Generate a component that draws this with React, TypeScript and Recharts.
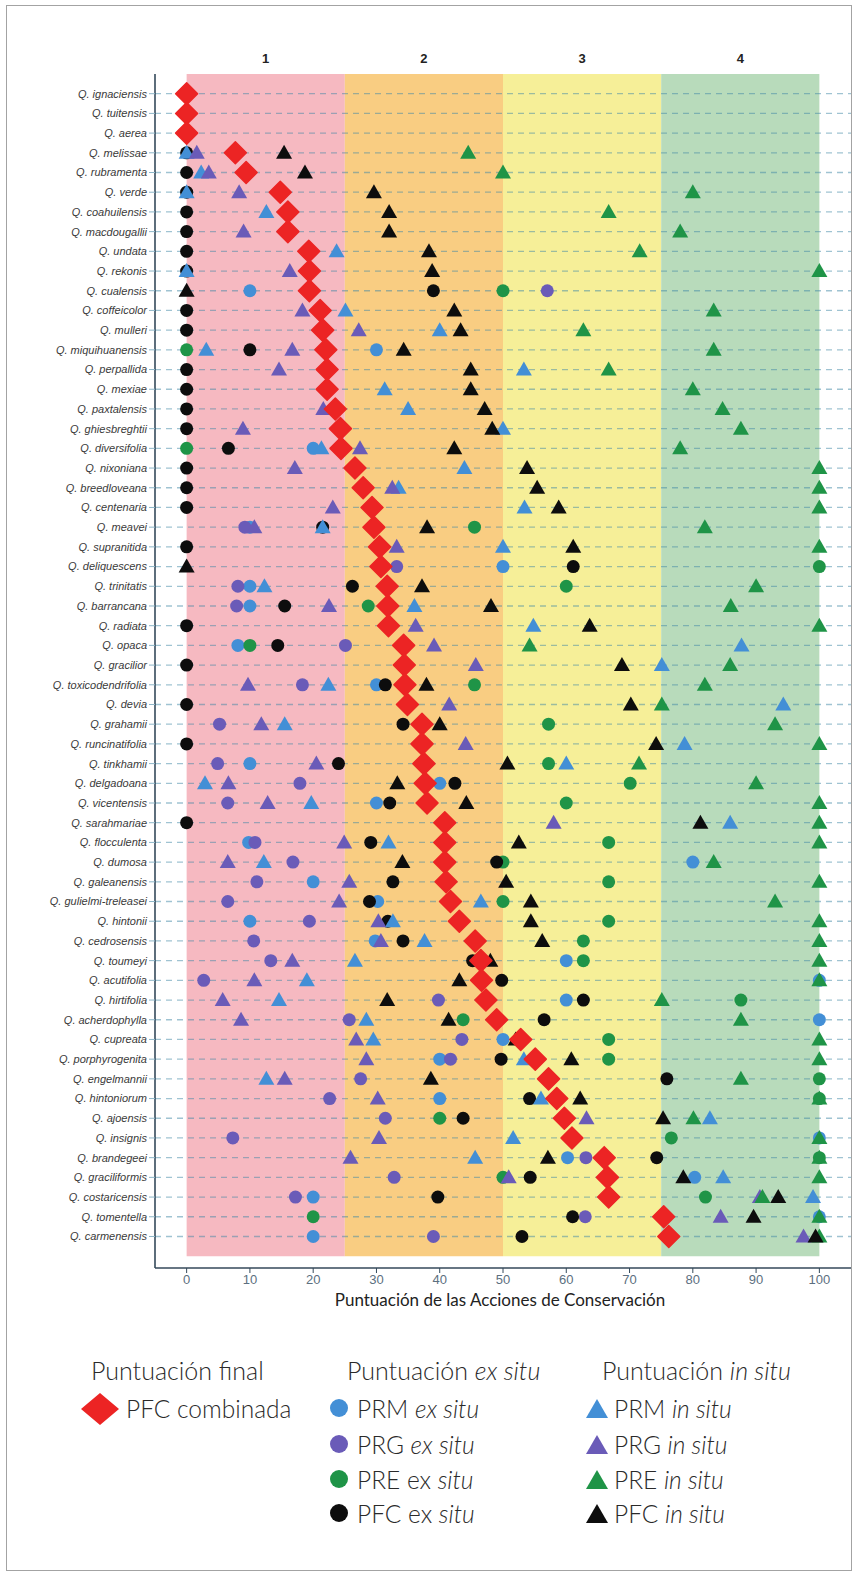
import React from 'react';
import { ScatterChart, Scatter, XAxis, YAxis, ReferenceArea, ReferenceLine } from 'recharts';

const species = [
  'Q. ignaciensis', 'Q. tuitensis', 'Q. aerea', 'Q. melissae', 'Q. rubramenta',
  'Q. verde', 'Q. coahuilensis', 'Q. macdougallii', 'Q. undata', 'Q. rekonis',
  'Q. cualensis', 'Q. coffeicolor', 'Q. mulleri', 'Q. miquihuanensis', 'Q. perpallida',
  'Q. mexiae', 'Q. paxtalensis', 'Q. ghiesbreghtii', 'Q. diversifolia', 'Q. nixoniana',
  'Q. breedloveana', 'Q. centenaria', 'Q. meavei', 'Q. supranitida', 'Q. deliquescens',
  'Q. trinitatis', 'Q. barrancana', 'Q. radiata', 'Q. opaca', 'Q. gracilior',
  'Q. toxicodendrifolia', 'Q. devia', 'Q. grahamii', 'Q. runcinatifolia', 'Q. tinkhamii',
  'Q. delgadoana', 'Q. vicentensis', 'Q. sarahmariae', 'Q. flocculenta', 'Q. dumosa',
  'Q. galeanensis', 'Q. gulielmi-treleasei', 'Q. hintonii', 'Q. cedrosensis', 'Q. toumeyi',
  'Q. acutifolia', 'Q. hirtifolia', 'Q. acherdophylla', 'Q. cupreata', 'Q. porphyrogenita',
  'Q. engelmannii', 'Q. hintoniorum', 'Q. ajoensis', 'Q. insignis', 'Q. brandegeei',
  'Q. graciliformis', 'Q. costaricensis', 'Q. tomentella', 'Q. carmenensis',
];

const _ = null;

// PFC combinada
const combinada = [
  0, 0, 0, 7.7, 9.4, 14.8, 16.0, 16.0, 19.3, 19.4,
  19.4, 21.1, 21.5, 22.0, 22.2, 22.2, 23.5, 24.3, 24.4, 26.6,
  27.9, 29.3, 29.6, 30.5, 30.7, 31.7, 31.8, 31.9, 34.3, 34.4,
  34.5, 34.9, 37.2, 37.2, 37.5, 37.7, 38.0, 40.8, 40.8, 40.8,
  41.0, 41.7, 43.1, 45.6, 46.5, 46.6, 47.3, 49.0, 52.8, 55.1,
  57.2, 58.5, 59.7, 60.9, 66.0, 66.5, 66.7, 75.4, 76.2,
];

// ex situ
const prmEx = [
  _, _, _, _, _, _, _, _, _, _,
  10, _, _, 30, _, _, _, _, 20, _,
  _, _, 10, _, 50, 10, 10, _, 8.1, _,
  30, _, _, _, 10, 40, 30, _, 9.8, 80,
  20, 30.2, 10, 29.8, 60, 100, 60, 100, 50, 40,
  _, 40, _, 100, 60.2, 80.3, 20, 100, 20,
];
const prgEx = [
  _, _, _, _, _, _, _, _, _, _,
  57, _, _, _, _, _, _, _, _, _,
  _, _, 9.2, _, 33.2, 8.1, 7.9, _, 25.1, _,
  18.3, _, 5.2, _, 4.9, 17.9, 6.5, _, 10.8, 16.8,
  11.1, 6.5, 19.4, 10.6, 13.3, 2.7, 39.8, 25.7, 43.5, 41.7,
  27.5, 22.6, 31.4, 7.3, 63.1, 32.8, 17.2, 63, 39,
];
const preEx = [
  _, _, _, _, _, _, _, _, _, _,
  50, _, _, 0, _, _, _, _, 0, _,
  _, _, 45.5, _, 100, 60, 28.7, _, 10, _,
  45.5, _, 57.2, _, 57.2, 70.1, 60, _, 66.7, 50,
  66.7, 50, 66.7, 62.7, 62.7, _, 87.6, 43.7, 66.7, 66.7,
  100, 100, 40, 76.6, 100, 50, 82, 20, _,
];
const pfcEx = [
  _, _, _, 0, 0, 0, 0, 0, 0, 0,
  39, 0, 0, 10, 0, 0, 0, 0, 6.6, 0,
  0, 0, 21.5, 0, 61.1, 26.2, 15.5, 0, 14.4, 0,
  31.4, 0, 34.2, 0, 24, 42.4, 32.1, 0, 29.1, 49,
  32.6, 28.9, 31.8, 34.2, 45.2, 49.8, 62.7, 56.5, _, 49.7,
  75.9, 54.2, 43.7, _, 74.3, 54.3, 39.7, 61, 53,
];

// in situ
const prmIn = [
  _, _, _, 0, 2.3, 0, 12.6, _, 23.7, 0,
  _, 25.1, 40, 3.1, 53.3, 31.3, 35, 50, 21.3, 43.9,
  33.5, 53.4, 21.5, 50, _, 12.3, 36, 54.8, 87.7, 75.1,
  22.4, 94.3, 15.5, 78.7, 60, 2.9, 19.7, 85.9, 31.9, 12.2,
  _, 46.5, 32.6, 37.6, 26.6, 19, 14.6, 28.4, 29.5, 53.3,
  12.6, 56, 82.7, 51.6, 45.6, 84.8, 99, _, _,
];
const prgIn = [
  _, _, _, 1.6, 3.5, 8.3, _, 9.0, _, 16.3,
  _, 18.3, 27.2, 16.7, 14.6, _, 21.6, 8.9, 27.4, 17.1,
  32.5, 23.1, 10.7, 33.2, _, _, 22.5, 36.2, 39.1, 45.7,
  9.7, 41.5, 11.8, 44.1, 20.5, 6.6, 12.8, 58, 24.9, 6.5,
  25.7, 24.1, 30.3, 30.7, 16.7, 10.7, 5.7, 8.6, 26.8, 28.4,
  15.5, 30.2, 63.2, 30.4, 25.9, 50.9, 90.6, 84.4, 97.5,
];
const preIn = [
  _, _, _, 44.5, 50, 80, 66.7, 78, 71.6, 100,
  _, 83.3, 62.7, 83.3, 66.7, 80, 84.7, 87.6, 78, 100,
  100, 100, 81.9, 100, _, 90, 86, 100, 54.2, 85.9,
  81.9, 75.1, 93, 100, 71.5, 90, 100, 100, 100, 83.3,
  100, 93, 100, 100, 100, 100, 75.1, 87.6, 100, 100,
  87.6, 100, 80.1, 100, 100, 100, 91, 100, 100,
];
const pfcIn = [
  _, _, _, 15.4, 18.7, 29.6, 32, 32, 38.3, 38.8,
  0, 42.3, 43.3, 34.3, 44.9, 44.9, 47.1, 48.3, 42.3, 53.8,
  55.4, 58.8, 38, 61.1, 0, 37.2, 48.1, 63.7, _, 68.8,
  37.9, 70.2, 40, 74.2, 50.7, 33.3, 44.2, 81.2, 52.5, 34.1,
  50.5, 54.4, 54.4, 56.2, 48, 43.1, 31.7, 41.4, 52, 60.8,
  38.6, 62.2, 75.3, _, 57.1, 78.5, 93.5, 89.6, 99.4,
];

const xTicks = [0, 10, 20, 30, 40, 50, 60, 70, 80, 90, 100];
const bands = [
  { from: 0, to: 25, label: '1', color: '#f6b9c1' },
  { from: 25, to: 50, label: '2', color: '#f9cd82' },
  { from: 50, to: 75, label: '3', color: '#f6ef98' },
  { from: 75, to: 100, label: '4', color: '#b8dbbb' },
];

const BLUE = '#438fd6';
const PURPLE = '#6a5bb8';
const GREEN = '#1f9447';
const BLACK = '#0d0d0d';
const RED = '#ec2424';

const rows = species.map((_, i) => i + 1);
const toPoints = (vals: (number | null)[]) =>
  vals.flatMap((v, i) => (v === null ? [] : [{ x: v, y: i + 1 }]));

const circleShape = (color: string) => (p: any) => (
  <circle cx={p.cx} cy={p.cy} r={6.5} fill={color} />
);
const triangleShape = (color: string) => (p: any) => (
  <polygon
    points={`${p.cx - 8},${p.cy + 6} ${p.cx + 8},${p.cy + 6} ${p.cx},${p.cy - 8}`}
    fill={color}
  />
);
const diamondShape = (p: any) => (
  <polygon
    points={`${p.cx},${p.cy - 11} ${p.cx + 11},${p.cy} ${p.cx},${p.cy + 11} ${p.cx - 11},${p.cy}`}
    fill={RED}
    stroke={RED}
    strokeLinejoin="round"
    strokeWidth={1.5}
  />
);

const series = [
  { name: 'PRM ex situ', data: prmEx, shape: circleShape(BLUE) },
  { name: 'PRG ex situ', data: prgEx, shape: circleShape(PURPLE) },
  { name: 'PRE ex situ', data: preEx, shape: circleShape(GREEN) },
  { name: 'PFC ex situ', data: pfcEx, shape: circleShape(BLACK) },
  { name: 'PRM in situ', data: prmIn, shape: triangleShape(BLUE) },
  { name: 'PRG in situ', data: prgIn, shape: triangleShape(PURPLE) },
  { name: 'PRE in situ', data: preIn, shape: triangleShape(GREEN) },
  { name: 'PFC in situ', data: pfcIn, shape: triangleShape(BLACK) },
  { name: 'PFC combinada', data: combinada, shape: diamondShape },
];

const legendFont = 'Lato, "Open Sans", sans-serif';

const LegendIcon = ({ kind, color }: { kind: string; color: string }) => {
  if (kind === 'diamond')
    return (
      <svg width={40} height={34} style={{ display: 'block' }}>
        <polygon points="20,1 39,17 20,33 1,17" fill={color} />
      </svg>
    );
  if (kind === 'circle')
    return (
      <svg width={20} height={20} style={{ display: 'block' }}>
        <circle cx={10} cy={10} r={9} fill={color} />
      </svg>
    );
  return (
    <svg width={24} height={22} style={{ display: 'block' }}>
      <polygon points="1,20 23,20 12,1" fill={color} />
    </svg>
  );
};

const legendHeaders = [
  { x: 91, parts: [['Puntuación final', false]] },
  { x: 347, parts: [['Puntuación ', false], ['ex situ', true]] },
  { x: 602, parts: [['Puntuación ', false], ['in situ', true]] },
];

const legendItems = [
  { x: 100, tx: 126, row: 0, kind: 'diamond', color: RED, parts: [['PFC combinada', false]] },
  { x: 339, tx: 357, row: 0, kind: 'circle', color: BLUE, parts: [['PRM ', false], ['ex situ', true]] },
  { x: 339, tx: 357, row: 1, kind: 'circle', color: PURPLE, parts: [['PRG ', false], ['ex situ', true]] },
  { x: 339, tx: 357, row: 2, kind: 'circle', color: GREEN, parts: [['PRE ex ', false], ['situ', true]] },
  { x: 339, tx: 357, row: 3, kind: 'circle', color: BLACK, parts: [['PFC ex ', false], ['situ', true]] },
  { x: 597, tx: 614, row: 0, kind: 'triangle', color: BLUE, parts: [['PRM ', false], ['in situ', true]] },
  { x: 597, tx: 614, row: 1, kind: 'triangle', color: PURPLE, parts: [['PRG ', false], ['in situ', true]] },
  { x: 597, tx: 614, row: 2, kind: 'triangle', color: GREEN, parts: [['PRE ', false], ['in situ', true]] },
  { x: 597, tx: 614, row: 3, kind: 'triangle', color: BLACK, parts: [['PFC ', false], ['in situ', true]] },
];

const headerY = 1370;
const rowY = [1409, 1445, 1480, 1514];

const Parts = ({ parts }: { parts: any[] }) => (
  <>
    {parts.map(([t, it], i) => (
      <span key={i} style={{ fontStyle: it ? 'italic' : 'normal', whiteSpace: 'pre' }}>{t}</span>
    ))}
  </>
);

const App: React.FC = () => {
  return (
    <div style={{ position: 'absolute', left: 0, top: 0, width: 859, height: 1577, background: '#fff' }}>
      <div
        style={{
          position: 'absolute', left: 6, top: 5, width: 846, height: 1566,
          border: '1px solid #a3a3a3', boxSizing: 'border-box',
        }}
      />
      <div style={{ position: 'absolute', left: 0, top: 0 }}>
        <ScatterChart
          width={859}
          height={1310}
          margin={{ top: 74, right: 8, bottom: 12, left: 0 }}
          style={{ fontFamily: '"Liberation Sans", Arial, sans-serif' }}
        >
          {bands.map((b) => (
            <ReferenceArea
              key={b.label}
              x1={b.from}
              x2={b.to}
              y1={0}
              y2={60}
              fill={b.color}
              fillOpacity={1}
              stroke="none"
              label={{ value: b.label, position: 'top', offset: 11, fontSize: 13, fontWeight: 'bold', fill: '#222' }}
            />
          ))}
          {rows.map((r) => (
            <ReferenceLine
              key={r}
              y={r}
              stroke="#3f88a6"
              strokeOpacity={0.5}
              strokeWidth={1.3}
              strokeDasharray="6 5"
            />
          ))}
          <XAxis
            type="number"
            dataKey="x"
            domain={[-5, 105]}
            ticks={xTicks}
            height={30}
            axisLine={{ stroke: '#34495a', strokeWidth: 1.6 }}
            tickLine={{ stroke: '#34495a' }}
            tickSize={5}
            tick={{ fontSize: 13, fill: '#5c6f80' }}
          />
          <YAxis
            type="number"
            dataKey="y"
            domain={[0, 60.6]}
            reversed
            ticks={rows}
            interval={0}
            width={155}
            tickFormatter={(v: number) => species[v - 1] ?? ''}
            axisLine={{ stroke: '#34495a', strokeWidth: 1.6 }}
            tickLine={{ stroke: '#8db6c8' }}
            tickSize={6}
            tick={{ fontSize: 11, fontStyle: 'italic', fill: '#3a3a3a' }}
          />
          {series.map((s) => (
            <Scatter
              key={s.name}
              name={s.name}
              data={toPoints(s.data)}
              shape={s.shape}
              isAnimationActive={false}
            />
          ))}
        </ScatterChart>
      </div>
      <div
        style={{
          position: 'absolute', left: 0, width: 1000, top: 1289, textAlign: 'center',
          fontFamily: legendFont, fontSize: 17, color: '#222',
        }}
      >
        Puntuación de las Acciones de Conservación
      </div>
      {legendHeaders.map((h, i) => (
        <div
          key={i}
          style={{
            position: 'absolute', left: h.x, top: headerY - 16, lineHeight: '32px',
            fontFamily: legendFont, fontWeight: 300, fontSize: 25, color: '#2a2a2a', whiteSpace: 'nowrap',
          }}
        >
          <Parts parts={h.parts} />
        </div>
      ))}
      {legendItems.map((it, i) => (
        <React.Fragment key={i}>
          <div
            style={{
              position: 'absolute',
              left: it.x - (it.kind === 'diamond' ? 20 : it.kind === 'circle' ? 10 : 12),
              top: rowY[it.row] - (it.kind === 'diamond' ? 17 : 11),
            }}
          >
            <LegendIcon kind={it.kind} color={it.color} />
          </div>
          <div
            style={{
              position: 'absolute', left: it.tx, top: rowY[it.row] - 16, lineHeight: '32px',
              fontFamily: legendFont, fontWeight: 300, fontSize: 24.5, color: '#2a2a2a', whiteSpace: 'nowrap',
            }}
          >
            <Parts parts={it.parts} />
          </div>
        </React.Fragment>
      ))}
    </div>
  );
};

export default App;
